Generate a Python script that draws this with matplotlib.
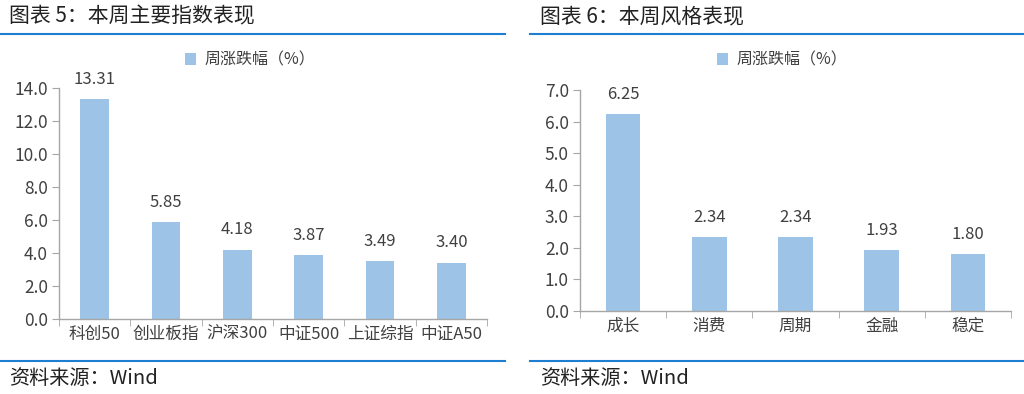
import matplotlib
matplotlib.use("Agg")
import matplotlib.pyplot as plt
from matplotlib.lines import Line2D
import numpy as np

plt.rcParams['font.family'] = ['Noto Sans CJK SC', 'DejaVu Sans']

# ---- data ----
left_title = "图表 5：本周主要指数表现"
left_cats = ["科创50", "创业板指", "沪深300", "中证500", "上证综指", "中证A50"]
left_vals = [13.31, 5.85, 4.18, 3.87, 3.49, 3.40]
left_yticks = [0.0, 2.0, 4.0, 6.0, 8.0, 10.0, 12.0, 14.0]

right_title = "图表 6：本周风格表现"
right_cats = ["成长", "消费", "周期", "金融", "稳定"]
right_vals = [6.25, 2.34, 2.34, 1.93, 1.80]
right_yticks = [0.0, 1.0, 2.0, 3.0, 4.0, 5.0, 6.0, 7.0]

series_name = "周涨跌幅（%）"
source = "资料来源：Wind"

BAR = "#9DC3E6"
RULE = "#1E7FD2"
TXT = "#404040"
SPINE = "#A6A6A6"

fig = plt.figure(figsize=(10.24, 3.94), dpi=100)
W, H = 1024, 394

def px(x0, y0, x1, y1):
    # pixel box (top-left origin) -> figure fraction rect
    return [x0 / W, 1 - y1 / H, (x1 - x0) / W, (y1 - y0) / H]

def panel(rect, cats, vals, yticks, legend_xy, xfs):
    ax = fig.add_axes(rect)
    x = np.arange(len(cats))
    bars = ax.bar(x, vals, width=0.4, color=BAR, label=series_name, zorder=2)
    for b, v in zip(bars, vals):
        ax.text(b.get_x() + b.get_width() / 2, v + (yticks[-1] * 0.05), f"{v:.2f}",
                ha="center", va="bottom", fontsize=12, color=TXT)
    ax.set_xlim(-0.5, len(cats) - 0.5)
    ax.set_ylim(yticks[0], yticks[-1])
    ax.set_yticks(yticks)
    ax.set_yticklabels([f"{t:.1f}" for t in yticks], fontsize=12.5, color=TXT)
    ax.set_xticks(x)
    ax.set_xticklabels(cats, fontsize=xfs, color=TXT)
    ax.set_xticks(np.arange(len(cats) + 1) - 0.5, minor=True)
    ax.tick_params(axis="x", which="major", length=0, pad=5)
    ax.tick_params(axis="x", which="minor", length=5, color=SPINE)
    ax.tick_params(axis="y", length=5, color=SPINE, pad=3)
    for s in ["top", "right"]:
        ax.spines[s].set_visible(False)
    for s in ["left", "bottom"]:
        ax.spines[s].set_color(SPINE)
        ax.spines[s].set_linewidth(1.0)
    ax.legend(loc="center", bbox_to_anchor=legend_xy, bbox_transform=fig.transFigure,
              frameon=False, fontsize=11.5, handlelength=0.7, handleheight=0.7,
              handletextpad=0.5, labelcolor=TXT)
    return ax

panel(px(59, 88, 487, 319), left_cats, left_vals, left_yticks, (250 / W, 1 - 60 / H), 12)
panel(px(580, 90, 1011, 311), right_cats, right_vals, right_yticks, (782 / W, 1 - 60 / H), 12)

# titles, rules, source notes
fig.text(9 / W, 1 - 16 / H, left_title, fontsize=15, color="#222222", va="center", ha="left")
fig.text(540 / W, 1 - 16 / H, right_title, fontsize=15, color="#222222", va="center", ha="left")
for (a, b) in [(0, 505), (530, 1024)]:
    for y in [34, 361]:
        fig.add_artist(Line2D([a / W, b / W], [1 - y / H, 1 - y / H], color=RULE, lw=1.5))
fig.text(9 / W, 1 - 379 / H, source, fontsize=14.5, color="#222222", va="center", ha="left")
fig.text(540 / W, 1 - 379 / H, source, fontsize=14.5, color="#222222", va="center", ha="left")

fig.savefig("out.png", dpi=100)
